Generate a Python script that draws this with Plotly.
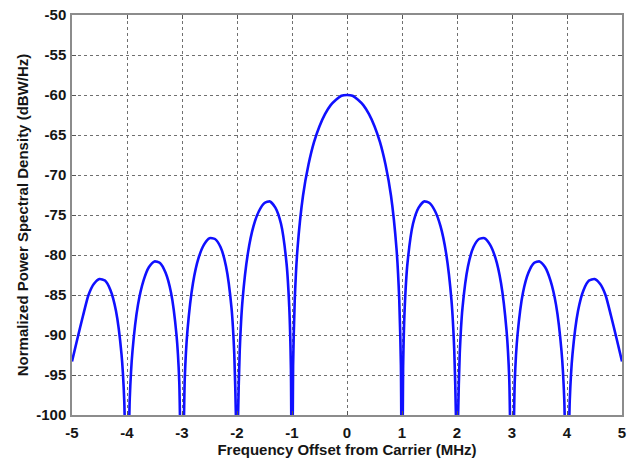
import plotly.graph_objects as go

# Frequency offset from the carrier (MHz) and normalized PSD (dBW/Hz).
# Points at exact nulls sit below the axis floor so the dips run off the bottom.
freq_mhz = [
    -5.0, -4.9, -4.8, -4.7, -4.6, -4.5, -4.4, -4.3, -4.2, -4.1, -4.05, -4.0,
    -3.95, -3.9, -3.8, -3.7, -3.6, -3.5, -3.4, -3.3, -3.2, -3.1, -3.05, -3.0,
    -2.95, -2.9, -2.8, -2.7, -2.6, -2.5, -2.4, -2.3, -2.2, -2.1, -2.05, -2.02, -2.0,
    -1.98, -1.95, -1.9, -1.8, -1.7, -1.6, -1.5, -1.4, -1.3, -1.2, -1.1, -1.05, -1.02, -1.0,
    -0.98, -0.95, -0.9, -0.8, -0.7, -0.6, -0.5, -0.4, -0.3, -0.2, -0.1, 0.0,
    0.1, 0.2, 0.3, 0.4, 0.5, 0.6, 0.7, 0.8, 0.9, 0.95, 0.98,
    1.0, 1.02, 1.05, 1.1, 1.2, 1.3, 1.4, 1.5, 1.6, 1.7, 1.8, 1.9, 1.95, 1.98,
    2.0, 2.02, 2.05, 2.1, 2.2, 2.3, 2.4, 2.5, 2.6, 2.7, 2.8, 2.9, 2.95,
    3.0, 3.05, 3.1, 3.2, 3.3, 3.4, 3.5, 3.6, 3.7, 3.8, 3.9, 3.95,
    4.0, 4.05, 4.1, 4.2, 4.3, 4.4, 4.5, 4.6, 4.7, 4.8, 4.9, 5.0,
]
psd_dbw_hz = [
    -93.3, -90.4, -87.6, -85.0, -83.6, -83.0, -83.2, -84.4, -87.0, -92.4, -98.2, -115.0,
    -98.0, -92.0, -86.2, -83.2, -81.5, -80.8, -81.0, -82.2, -84.7, -90.0, -95.8, -115.0,
    -95.5, -89.4, -83.5, -80.4, -78.7, -77.9, -78.0, -79.0, -81.4, -86.6, -92.3, -100.1, -115.0,
    -99.9, -91.9, -85.7, -79.7, -76.4, -74.5, -73.5, -73.3, -74.1, -76.1, -81.0, -86.5, -94.2, -115.0,
    -93.8, -85.6, -79.2, -72.6, -68.7, -65.9, -63.9, -62.4, -61.3, -60.6, -60.1, -60.0,
    -60.1, -60.6, -61.3, -62.4, -63.9, -65.9, -68.7, -72.6, -79.2, -85.6, -93.8,
    -115.0, -94.2, -86.5, -81.0, -76.1, -74.1, -73.3, -73.5, -74.5, -76.4, -79.7, -85.7, -91.9, -99.9,
    -115.0, -100.1, -92.3, -86.6, -81.4, -79.0, -78.0, -77.9, -78.7, -80.4, -83.5, -89.4, -95.5,
    -115.0, -95.8, -90.0, -84.7, -82.2, -81.0, -80.8, -81.5, -83.2, -86.2, -92.0, -98.0,
    -115.0, -98.2, -92.4, -87.0, -84.4, -83.2, -83.0, -83.6, -85.0, -87.6, -90.4, -93.3,
]

x_ticks = [-5, -4, -3, -2, -1, 0, 1, 2, 3, 4, 5]
y_ticks = [-100, -95, -90, -85, -80, -75, -70, -65, -60, -55, -50]

label_font = dict(family="Liberation Sans, Arial, sans-serif", size=15, color="#151515", weight="bold")
title_font = dict(family="Liberation Sans, Arial, sans-serif", size=15, color="#151515", weight="bold")

fig = go.Figure(
    go.Scatter(
        x=freq_mhz,
        y=psd_dbw_hz,
        mode="lines",
        line=dict(color="#1010ff", width=2.6, shape="spline", smoothing=0.6),
        cliponaxis=True,
        hoverinfo="x+y",
    )
)

axis_common = dict(
    showgrid=True,
    gridcolor="#707070",
    gridwidth=1,
    griddash="dot",
    showline=True,
    linecolor="#8c8c8c",
    linewidth=1.5,
    mirror="ticks",
    ticks="inside",
    ticklen=4,
    tickcolor="#555555",
    zeroline=False,
    tickfont=label_font,
)

fig.update_xaxes(
    range=[-5, 5],
    tickvals=x_ticks,
    ticktext=[str(v) for v in x_ticks],
    ticklabelstandoff=3,
    title=dict(text="Frequency Offset from Carrier (MHz)", font=title_font, standoff=2),
    **axis_common,
)
fig.update_yaxes(
    range=[-100, -50],
    tickvals=y_ticks,
    ticktext=[str(v) for v in y_ticks],
    ticklabelstandoff=1,
    title=dict(text="Normalized Power Spectral Density (dBW/Hz)", font=title_font, standoff=4),
    **axis_common,
)

fig.update_layout(
    width=630,
    height=459,
    margin=dict(l=72, r=4, t=15, b=44),
    paper_bgcolor="white",
    plot_bgcolor="white",
    showlegend=False,
)

fig.write_html("out.html")
